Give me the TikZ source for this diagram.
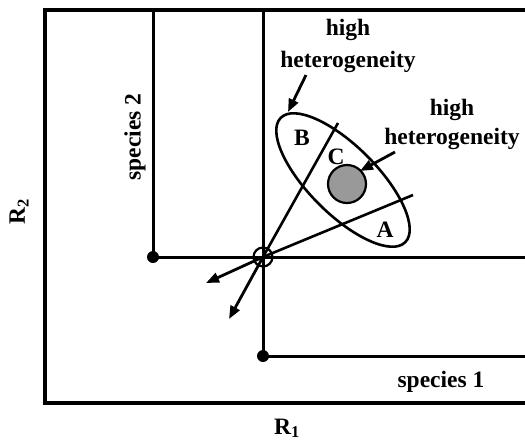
\documentclass[tikz,border=0pt]{standalone}
\usepackage{fontspec}
\setmainfont{Liberation Serif}
\usetikzlibrary{arrows.meta,shapes.geometric}
\begin{document}
\begin{tikzpicture}[x=1pt,y=-1pt,
  frameline/.style={line width=3.1pt,line join=miter},
  zngi/.style={line width=3pt},
  thinl/.style={line width=2.6pt},
  lbl/.style={font=\fontsize{23.5}{28}\selectfont\bfseries,inner sep=0pt},
  arr/.style={line width=2.8pt,-{Triangle[length=13pt,width=10pt]}},
  dotn/.style={circle,fill=black,inner sep=0pt,minimum size=12pt},
]
\useasboundingbox (0,0) rectangle (525,440);
% frame
\coordinate (tr) at (526,10);
\coordinate (tl) at (45,10);
\coordinate (bl) at (45,403);
\coordinate (br) at (526,403);
\draw[frameline] (tr) -- (tl) -- (bl) -- (br);
% species 2 ZNGI
\node[dotn] (s2) at (153,257) {};
\coordinate (s2top) at (153,10);
\coordinate (s2right) at (526,257);
\draw[zngi] (s2top) -- (s2.center) -- (s2right);
% species 1 ZNGI
\node[dotn] (s1) at (263,356) {};
\coordinate (s1top) at (263,10);
\coordinate (s1right) at (526,356);
\draw[zngi] (s1top) -- (s1.center) -- (s1right);
% equilibrium point
\node[circle,draw,line width=2.2pt,minimum size=19pt,inner sep=0pt] (o) at (263,257) {};
\coordinate (bend) at (338,123);
\coordinate (aend) at (413,195);
\draw[thinl] (o.center) -- (bend);
\draw[thinl] (o.center) -- (aend);
\coordinate (c1) at (206,283);
\coordinate (c2) at (229,319);
\draw[arr] (o.center) -- (c1);
\draw[arr] (o.center) -- (c2);
% ellipse
\node[draw,ellipse,line width=2.6pt,minimum width=176pt,minimum height=68pt,inner sep=0pt,rotate=-45] (ell) at (343,180) {};
% gray circle
\node[circle,draw,fill=black!40,line width=2.2pt,minimum size=38pt,inner sep=0pt] (gc) at (347,184) {};
% region labels
\node[lbl] (B) at (302,138) {B};
\node[lbl] (C) at (336,157) {C};
\node[lbl] (A) at (385,230) {A};
% high heterogeneity labels
\node[lbl,font=\fontsize{23.5}{32}\selectfont\bfseries,align=center,anchor=north] (h1) at (348,19) {high\\heterogeneity};
\node[lbl,font=\fontsize{23.5}{28.5}\selectfont\bfseries,align=center,anchor=north] (h2) at (452,99) {high\\heterogeneity};
\coordinate (t1) at (306,75);
\coordinate (p1) at (288,112);
\draw[arr] (t1) -- (p1);
\coordinate (t2) at (395,152);
\coordinate (p2) at (360,171);
\draw[arr] (t2) -- (p2);
% species labels
\node[lbl,rotate=90] (sp2) at (135,137) {species 2};
\node[lbl,anchor=base] (sp1) at (441,387) {species 1};
% axis labels
\node[lbl,rotate=90] (r2) at (19,212) {R\textsubscript{2}};
\node[lbl,anchor=base west] (r1) at (274,434) {R\textsubscript{1}};
\end{tikzpicture}
\end{document}
